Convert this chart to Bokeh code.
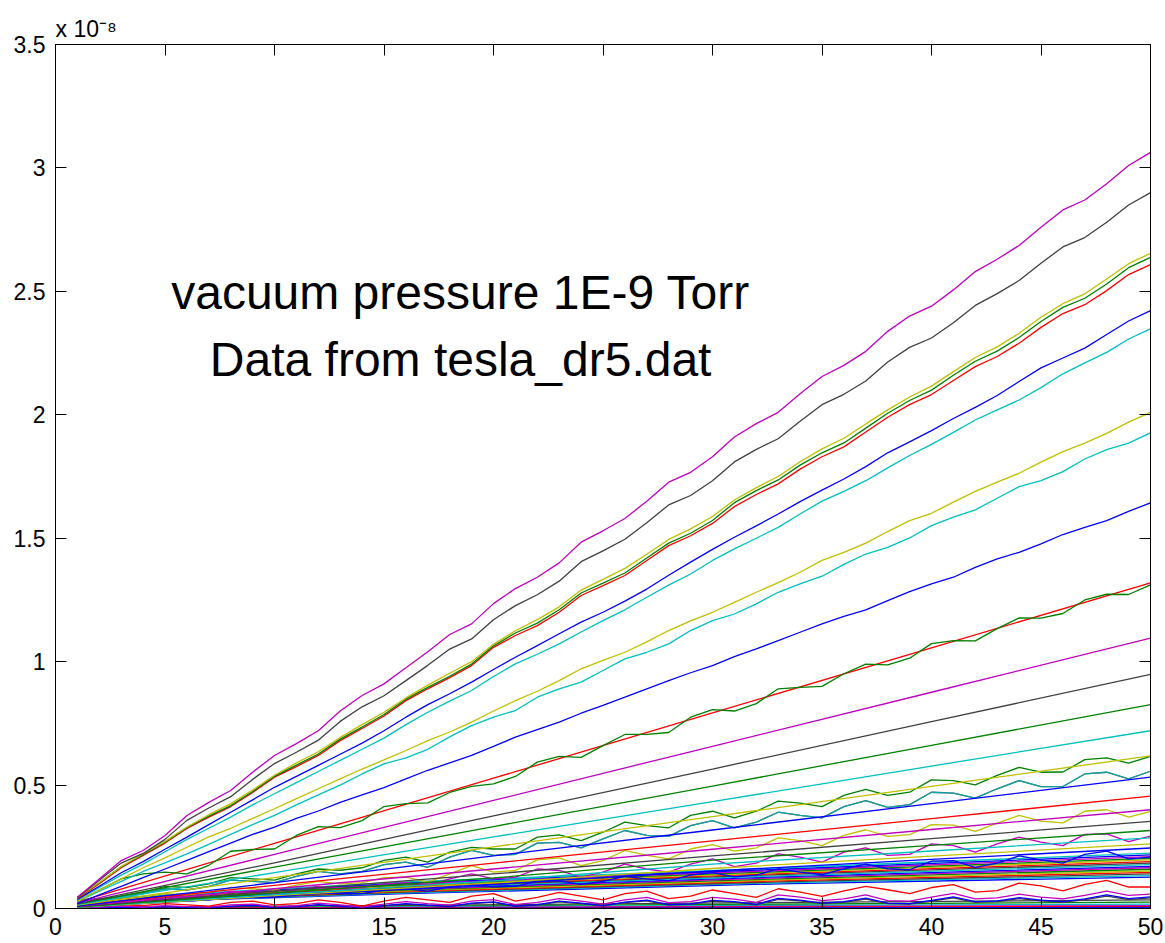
from bokeh.plotting import figure
from bokeh.models import Range1d, LinearAxis, FixedTicker, NumeralTickFormatter, Label
from bokeh.embed import file_html
from bokeh.resources import INLINE

# Pressure traces, in units of 1e-8, sampled at steps 1..50
steps = list(range(1, 51))
coarse = [1, 10, 20, 30, 40, 50]
band_x = [1, 16, 33, 50]
ends_x = [1, 50]

x_ticks = [0, 5, 10, 15, 20, 25, 30, 35, 40, 45, 50]
y_ticks = [0, 0.5, 1, 1.5, 2, 2.5, 3, 3.5]

mag_top = [0.046, 0.12, 0.194, 0.235, 0.296, 0.377, 0.43, 0.478, 0.552, 0.62,
           0.668, 0.72, 0.80, 0.863, 0.91, 0.975, 1.04, 1.11, 1.153, 1.235,
           1.296, 1.342, 1.40, 1.484, 1.53, 1.58, 1.65, 1.727, 1.767, 1.83,
           1.91, 1.964, 2.01, 2.085, 2.155, 2.20, 2.257, 2.338, 2.40, 2.44,
           2.506, 2.58, 2.63, 2.686, 2.76, 2.83, 2.87, 2.936, 3.01, 3.063]
gray_top = [0.044, 0.114, 0.184, 0.223, 0.280, 0.357, 0.407, 0.453, 0.523, 0.587,
            0.633, 0.682, 0.758, 0.817, 0.862, 0.923, 0.985, 1.051, 1.092, 1.170,
            1.227, 1.271, 1.326, 1.405, 1.449, 1.496, 1.563, 1.635, 1.673, 1.733,
            1.809, 1.860, 1.903, 1.974, 2.041, 2.083, 2.137, 2.214, 2.273, 2.311,
            2.373, 2.443, 2.491, 2.544, 2.614, 2.680, 2.718, 2.780, 2.850, 2.90]
yellow_top = [0.045, 0.105, 0.17, 0.222, 0.272, 0.33, 0.38, 0.425, 0.48, 0.54,
              0.59, 0.635, 0.693, 0.745, 0.795, 0.853, 0.905, 0.953, 1.0, 1.07,
              1.125, 1.17, 1.222, 1.29, 1.333, 1.378, 1.435, 1.495, 1.538, 1.588,
              1.655, 1.705, 1.75, 1.81, 1.862, 1.905, 1.963, 2.02, 2.072, 2.116,
              2.175, 2.232, 2.275, 2.33, 2.395, 2.45, 2.49, 2.55, 2.612, 2.654]
green_top = [0.044, 0.104, 0.169, 0.219, 0.269, 0.328, 0.374, 0.417, 0.474, 0.536,
             0.581, 0.626, 0.686, 0.735, 0.786, 0.848, 0.896, 0.941, 0.99, 1.064,
             1.116, 1.156, 1.21, 1.278, 1.318, 1.359, 1.42, 1.48, 1.52, 1.572,
             1.644, 1.693, 1.736, 1.796, 1.846, 1.886, 1.946, 2.006, 2.058, 2.1,
             2.16, 2.217, 2.258, 2.313, 2.378, 2.435, 2.472, 2.53, 2.596, 2.638]
red_top = [0.04, 0.10, 0.165, 0.215, 0.265, 0.324, 0.37, 0.413, 0.47, 0.532,
           0.575, 0.62, 0.68, 0.729, 0.78, 0.842, 0.89, 0.935, 0.984, 1.058,
           1.106, 1.146, 1.20, 1.268, 1.308, 1.349, 1.41, 1.47, 1.51, 1.56,
           1.628, 1.677, 1.72, 1.78, 1.83, 1.87, 1.93, 1.99, 2.041, 2.082,
           2.139, 2.195, 2.236, 2.29, 2.354, 2.41, 2.446, 2.503, 2.568, 2.608]
blue_top = [0.037, 0.09, 0.145, 0.19, 0.24, 0.289, 0.34, 0.39, 0.44, 0.491,
            0.535, 0.58, 0.625, 0.67, 0.72, 0.775, 0.826, 0.87, 0.917, 0.968,
            1.018, 1.065, 1.113, 1.16, 1.20, 1.245, 1.294, 1.35, 1.403, 1.455,
            1.504, 1.55, 1.598, 1.648, 1.695, 1.74, 1.79, 1.846, 1.89, 1.936,
            1.985, 2.03, 2.078, 2.135, 2.19, 2.23, 2.27, 2.325, 2.38, 2.422]
cyan_top = [0.035, 0.085, 0.135, 0.18, 0.23, 0.28, 0.325, 0.37, 0.42, 0.465,
            0.51, 0.555, 0.6, 0.645, 0.69, 0.745, 0.795, 0.84, 0.883, 0.94,
            0.991, 1.03, 1.072, 1.12, 1.166, 1.21, 1.261, 1.31, 1.355, 1.41,
            1.457, 1.50, 1.544, 1.598, 1.65, 1.69, 1.733, 1.785, 1.835, 1.88,
            1.929, 1.979, 2.02, 2.06, 2.11, 2.166, 2.21, 2.253, 2.307, 2.348]
yellow_mid = [0.03, 0.075, 0.12, 0.165, 0.205, 0.248, 0.29, 0.325, 0.365, 0.404,
              0.445, 0.485, 0.525, 0.565, 0.602, 0.64, 0.68, 0.715, 0.755, 0.8,
              0.842, 0.88, 0.923, 0.971, 1.005, 1.038, 1.08, 1.126, 1.165, 1.20,
              1.24, 1.281, 1.32, 1.362, 1.41, 1.443, 1.48, 1.527, 1.571, 1.601,
              1.646, 1.69, 1.727, 1.763, 1.808, 1.851, 1.885, 1.925, 1.97, 2.01]
cyan_mid = [0.028, 0.07, 0.11, 0.15, 0.185, 0.221, 0.26, 0.30, 0.34, 0.377,
            0.42, 0.46, 0.50, 0.545, 0.586, 0.61, 0.645, 0.695, 0.741, 0.775,
            0.802, 0.856, 0.89, 0.917, 0.964, 1.011, 1.038, 1.072, 1.126, 1.166,
            1.193, 1.234, 1.281, 1.315, 1.346, 1.394, 1.436, 1.463, 1.501, 1.551,
            1.585, 1.615, 1.662, 1.709, 1.733, 1.77, 1.821, 1.859, 1.885, 1.927]
blue_mid = [0.02, 0.055, 0.09, 0.125, 0.16, 0.195, 0.23, 0.265, 0.30, 0.33,
            0.365, 0.395, 0.43, 0.46, 0.49, 0.525, 0.56, 0.59, 0.62, 0.657,
            0.694, 0.725, 0.755, 0.791, 0.823, 0.856, 0.89, 0.923, 0.955, 0.984,
            1.02, 1.052, 1.085, 1.119, 1.153, 1.183, 1.21, 1.247, 1.284, 1.315,
            1.342, 1.382, 1.416, 1.443, 1.477, 1.515, 1.544, 1.571, 1.609, 1.643]
green_jag = [0.03, 0.075, 0.12, 0.14, 0.147, 0.14, 0.175, 0.232, 0.239, 0.241,
             0.296, 0.332, 0.328, 0.356, 0.413, 0.425, 0.428, 0.47, 0.495, 0.505,
             0.535, 0.593, 0.616, 0.612, 0.66, 0.705, 0.705, 0.713, 0.775, 0.806,
             0.80, 0.83, 0.89, 0.896, 0.90, 0.951, 0.99, 0.987, 1.014, 1.073,
             1.085, 1.084, 1.134, 1.177, 1.176, 1.195, 1.25, 1.273, 1.272, 1.311]
green_jag2 = [0.02, 0.035, 0.05, 0.065, 0.09, 0.085, 0.1, 0.125, 0.12, 0.115,
              0.14, 0.16, 0.155, 0.165, 0.195, 0.208, 0.188, 0.228, 0.248, 0.241,
              0.241, 0.289, 0.298, 0.275, 0.309, 0.35, 0.336, 0.327, 0.377, 0.394,
              0.367, 0.394, 0.435, 0.427, 0.413, 0.458, 0.483, 0.458, 0.471, 0.521,
              0.518, 0.501, 0.539, 0.572, 0.552, 0.553, 0.603, 0.61, 0.589, 0.616]
teal_jag = [0.015, 0.03, 0.045, 0.06, 0.08, 0.075, 0.09, 0.115, 0.11, 0.105,
            0.13, 0.15, 0.14, 0.15, 0.178, 0.188, 0.167, 0.208, 0.235, 0.215,
            0.219, 0.265, 0.268, 0.246, 0.282, 0.316, 0.296, 0.292, 0.336, 0.356,
            0.327, 0.35, 0.39, 0.377, 0.367, 0.413, 0.437, 0.41, 0.421, 0.471,
            0.467, 0.447, 0.485, 0.518, 0.494, 0.494, 0.545, 0.552, 0.525, 0.556]
yellow_jag = [0.01, 0.02, 0.035, 0.045, 0.06, 0.055, 0.065, 0.085, 0.08, 0.075,
              0.095, 0.11, 0.1, 0.105, 0.125, 0.127, 0.107, 0.14, 0.174, 0.147,
              0.154, 0.197, 0.205, 0.174, 0.194, 0.235, 0.215, 0.201, 0.241, 0.259,
              0.232, 0.246, 0.286, 0.275, 0.255, 0.296, 0.319, 0.292, 0.299, 0.34,
              0.338, 0.312, 0.346, 0.377, 0.354, 0.347, 0.394, 0.4, 0.37, 0.393]
mag_jag = [0.01, 0.02, 0.03, 0.035, 0.05, 0.045, 0.05, 0.07, 0.065, 0.06,
           0.075, 0.09, 0.08, 0.085, 0.1, 0.105, 0.095, 0.12, 0.14, 0.12,
           0.127, 0.16, 0.154, 0.127, 0.147, 0.18, 0.16, 0.147, 0.18, 0.201,
           0.17, 0.184, 0.221, 0.208, 0.188, 0.228, 0.246, 0.215, 0.219, 0.262,
           0.255, 0.228, 0.262, 0.289, 0.269, 0.255, 0.3, 0.302, 0.271, 0.293]
blue_jag = [0.01, 0.015, 0.02, 0.025, 0.035, 0.03, 0.035, 0.05, 0.045, 0.045,
            0.055, 0.065, 0.06, 0.06, 0.075, 0.08, 0.07, 0.088, 0.1, 0.088,
            0.09, 0.11, 0.112, 0.098, 0.11, 0.13, 0.12, 0.112, 0.135, 0.145,
            0.128, 0.135, 0.161, 0.147, 0.137, 0.161, 0.18, 0.161, 0.157, 0.192,
            0.194, 0.167, 0.184, 0.213, 0.197, 0.184, 0.219, 0.232, 0.201, 0.208]
red_low_jag = [0.005, 0.01, 0.015, 0.012, 0.02, 0.015, 0.01, 0.025, 0.03, 0.015,
               0.02, 0.035, 0.025, 0.01, 0.03, 0.045, 0.035, 0.025, 0.05, 0.06,
               0.03, 0.045, 0.065, 0.05, 0.035, 0.06, 0.07, 0.04, 0.05, 0.075,
               0.06, 0.045, 0.08, 0.066, 0.049, 0.071, 0.09, 0.076, 0.06, 0.085,
               0.097, 0.066, 0.072, 0.103, 0.092, 0.071, 0.098, 0.114, 0.087, 0.087]
mag_low_jag = [0.004, 0.006, 0.01, 0.006, 0.012, 0.008, 0.006, 0.015, 0.018, 0.008,
               0.012, 0.022, 0.015, 0.006, 0.018, 0.028, 0.02, 0.014, 0.03, 0.036,
               0.016, 0.025, 0.04, 0.03, 0.018, 0.035, 0.045, 0.024, 0.028, 0.045,
               0.038, 0.025, 0.055, 0.046, 0.032, 0.039, 0.055, 0.032, 0.03, 0.046,
               0.061, 0.039, 0.043, 0.058, 0.046, 0.039, 0.053, 0.07, 0.053, 0.058]
blue_low_jag = [0.003, 0.004, 0.006, 0.004, 0.008, 0.005, 0.004, 0.01, 0.013, 0.005,
                0.008, 0.016, 0.01, 0.004, 0.012, 0.02, 0.014, 0.009, 0.022, 0.027,
                0.01, 0.016, 0.03, 0.022, 0.012, 0.026, 0.034, 0.016, 0.019, 0.033,
                0.028, 0.017, 0.041, 0.034, 0.022, 0.028, 0.042, 0.022, 0.02, 0.033,
                0.047, 0.028, 0.031, 0.044, 0.034, 0.028, 0.039, 0.055, 0.04, 0.047]
gray_low_jag = [0.002, 0.003, 0.005, 0.003, 0.007, 0.004, 0.003, 0.009, 0.011, 0.004,
                0.007, 0.014, 0.009, 0.003, 0.011, 0.018, 0.012, 0.008, 0.02, 0.025,
                0.009, 0.014, 0.027, 0.02, 0.011, 0.024, 0.031, 0.014, 0.017, 0.03,
                0.025, 0.015, 0.037, 0.031, 0.02, 0.025, 0.038, 0.02, 0.018, 0.03,
                0.043, 0.025, 0.028, 0.04, 0.031, 0.025, 0.036, 0.05, 0.036, 0.043]

# Nearly straight traces, read at a few steps
red_2 = [0.026, 0.264, 0.528, 0.792, 1.056, 1.319]
mag_3 = [0.022, 0.219, 0.438, 0.657, 0.876, 1.095]
gray_3 = [0.02, 0.185, 0.375, 0.565, 0.757, 0.948]
green_3 = [0.018, 0.168, 0.332, 0.496, 0.661, 0.826]
cyan_3 = [0.016, 0.145, 0.29, 0.433, 0.577, 0.72]
yellow_3 = [0.014, 0.125, 0.25, 0.372, 0.495, 0.618]
blue_3 = [0.01, 0.105, 0.213, 0.318, 0.425, 0.532]
red_4 = [0.012, 0.094, 0.184, 0.274, 0.364, 0.455]
mag_4 = [0.01, 0.08, 0.16, 0.24, 0.32, 0.40]
gray_4 = [0.008, 0.07, 0.14, 0.213, 0.283, 0.353]
green_4 = [0.007, 0.063, 0.124, 0.196, 0.256, 0.316]
cyan_4 = [0.006, 0.056, 0.112, 0.18, 0.233, 0.286]
yellow_4 = [0.005, 0.052, 0.104, 0.162, 0.212, 0.262]
blue_4 = [0.005, 0.05, 0.098, 0.152, 0.199, 0.245]

# The dense bundle of slow channels
band_rows = [
    [0.020, 0.060, 0.100, 0.127],
    [0.021, 0.063, 0.104, 0.133],
    [0.022, 0.066, 0.108, 0.140],
    [0.023, 0.069, 0.112, 0.146],
    [0.024, 0.072, 0.116, 0.152],
    [0.025, 0.075, 0.120, 0.159],
    [0.026, 0.078, 0.124, 0.165],
    [0.027, 0.081, 0.128, 0.171],
    [0.028, 0.084, 0.132, 0.178],
    [0.029, 0.087, 0.137, 0.184],
    [0.030, 0.090, 0.141, 0.190],
    [0.031, 0.093, 0.145, 0.197],
    [0.032, 0.096, 0.149, 0.203],
    [0.033, 0.100, 0.154, 0.210],
    [0.034, 0.104, 0.159, 0.217],
    [0.035, 0.108, 0.164, 0.224],
]

# Channels that stay close to zero
floor_rows = [
    [0.003, 0.035],
    [0.002, 0.026],
    [0.002, 0.018],
    [0.001, 0.012],
    [0.001, 0.008],
    [0.0, 0.004],
]

B = "#0000FF"
G = "#008000"
R = "#FF0000"
C = "#00BFBF"
M = "#BF00BF"
Y = "#BFBF00"
K = "#404040"
cycle = [B, G, R, C, M, Y, K]

tick_font = "Liberation Sans"

p = figure(width=1165, height=943, x_range=Range1d(0, 50), y_range=Range1d(0, 3.5),
           output_backend="svg", toolbar_location=None,
           min_border_left=55, min_border_right=15, min_border_top=44, min_border_bottom=35,
           background_fill_color="white", border_fill_color="white")
p.xgrid.visible = False
p.ygrid.visible = False
p.outline_line_color = "black"
p.outline_line_width = 1

# y-axis exponent, shown as the plot title at the upper left
p.title.text = "x 10\u207b\u2078"
p.title.align = "left"
p.title.text_font = tick_font
p.title.text_font_size = "23px"
p.title.text_font_style = "normal"
p.title.text_color = "black"
p.title.standoff = 6
p.title.offset = 0

lw = 1.3

for i, row in enumerate(floor_rows):
    p.line(ends_x, row, line_color=[K, G, C, M, R, B][i], line_width=lw)
p.line(steps, gray_low_jag, line_color=K, line_width=lw)
p.line(steps, blue_low_jag, line_color=B, line_width=lw)
p.line(steps, mag_low_jag, line_color=M, line_width=lw)
p.line(steps, red_low_jag, line_color=R, line_width=lw)

for i, row in enumerate(band_rows):
    p.line(band_x, row, line_color=cycle[(i * 3) % 7], line_width=lw)

p.line(steps, blue_jag, line_color=B, line_width=lw)
p.line(steps, mag_jag, line_color=M, line_width=lw)
p.line(steps, yellow_jag, line_color=Y, line_width=lw)
p.line(steps, teal_jag, line_color=K, line_width=lw)
p.line(steps, teal_jag, line_color=C, line_width=lw, line_alpha=0.75)
p.line(steps, green_jag2, line_color=G, line_width=lw)

for ys, col in [(blue_4, B), (yellow_4, Y), (cyan_4, C), (green_4, G), (gray_4, K),
                (mag_4, M), (red_4, R), (blue_3, B), (yellow_3, Y), (cyan_3, C),
                (green_3, G), (gray_3, K), (mag_3, M), (red_2, R)]:
    p.line(coarse, ys, line_color=col, line_width=lw)

p.line(steps, green_jag, line_color=G, line_width=lw)
for ys, col in [(blue_mid, B), (cyan_mid, C), (yellow_mid, Y), (cyan_top, C),
                (blue_top, B), (red_top, R), (green_top, G), (yellow_top, Y),
                (gray_top, K), (mag_top, M)]:
    p.line(steps, ys, line_color=col, line_width=lw)

for ax in [p.xaxis[0], p.yaxis[0]]:
    ax.axis_line_color = "black"
    ax.major_tick_line_color = "black"
    ax.major_tick_in = 11
    ax.major_tick_out = 0
    ax.minor_tick_line_color = None
    ax.major_label_text_font = tick_font
    ax.major_label_text_font_size = "23px"
    ax.major_label_text_color = "black"

p.xaxis[0].ticker = FixedTicker(ticks=x_ticks)
p.xaxis[0].formatter = NumeralTickFormatter(format="0")
p.xaxis[0].major_label_standoff = 9
p.yaxis[0].ticker = FixedTicker(ticks=y_ticks)
p.yaxis[0].formatter = NumeralTickFormatter(format="0.[0]")
p.yaxis[0].major_label_standoff = 10

# Box ticks on the top and right edges, without labels
top_axis = LinearAxis(ticker=FixedTicker(ticks=x_ticks),
                      major_label_overrides={t: "" for t in x_ticks},
                      major_tick_in=11, major_tick_out=0, minor_tick_line_color=None,
                      major_label_standoff=0,
                      axis_line_color="black", major_tick_line_color="black")
right_axis = LinearAxis(ticker=FixedTicker(ticks=y_ticks),
                        major_label_overrides={t: "" for t in y_ticks},
                        major_tick_in=11, major_tick_out=0, minor_tick_line_color=None,
                        major_label_standoff=0,
                        axis_line_color="black", major_tick_line_color="black")
p.add_layout(top_axis, "above")
p.add_layout(right_axis, "right")

# Annotation in the open area
p.add_layout(Label(x=18.5, y=2.495, text="vacuum pressure 1E-9 Torr",
                   text_font=tick_font, text_font_size="48px", text_color="black",
                   text_align="center", text_baseline="alphabetic"))
p.add_layout(Label(x=18.5, y=2.222, text="Data from tesla_dr5.dat",
                   text_font=tick_font, text_font_size="48px", text_color="black",
                   text_align="center", text_baseline="alphabetic"))

open("out.html", "w").write(file_html(p, INLINE))
